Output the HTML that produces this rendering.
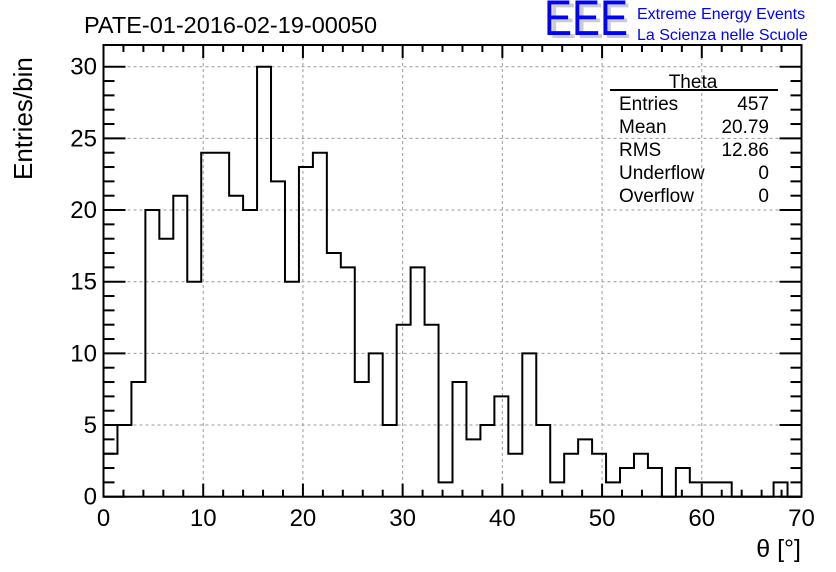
<!DOCTYPE html>
<html><head><meta charset="utf-8"><style>
html,body{margin:0;padding:0;background:#fff}
svg{display:block}
text{font-family:"Liberation Sans",sans-serif}
</style></head><body>
<svg id="chart" width="836" height="572" viewBox="0 0 836 572" xmlns="http://www.w3.org/2000/svg">
<rect x="0" y="0" width="836" height="572" fill="#fff"/>
<text x="84" y="33" font-size="23.5" fill="#000">PATE-01-2016-02-19-00050</text>
<g>
<text x="549" y="38" font-size="50" fill="#ccc" textLength="82" lengthAdjust="spacingAndGlyphs">EEE</text>
<text x="544" y="35" font-size="50" fill="#0000ff" textLength="84" lengthAdjust="spacingAndGlyphs">EEE</text>
<text x="637" y="19" font-size="16" fill="#0000ff">Extreme Energy Events</text>
<text x="637" y="40" font-size="16" fill="#0000ff">La Scienza nelle Scuole</text>
</g>
<g id="grid"></g>
<g id="hist"></g>
<g id="axes"></g>
<g font-size="19" fill="#000">
<text x="693" y="88" text-anchor="middle">Theta</text>
<line x1="610" y1="90" x2="778" y2="90" stroke="#000" stroke-width="2"/>
<text x="619" y="110">Entries</text><text x="769" y="110" text-anchor="end">457</text>
<text x="619" y="133">Mean</text><text x="769" y="133" text-anchor="end">20.79</text>
<text x="619" y="156">RMS</text><text x="769" y="156" text-anchor="end">12.86</text>
<text x="619" y="179">Underflow</text><text x="769" y="179" text-anchor="end">0</text>
<text x="619" y="202">Overflow</text><text x="769" y="202" text-anchor="end">0</text>
</g>
<text font-size="26" transform="translate(32,180) rotate(-90)" text-anchor="start">Entries/bin</text>
<text x="801" y="557" font-size="25" text-anchor="end">θ [°]</text>
</svg>
<script>
const binCounts = [3,5,8,20,18,21,15,24,24,21,20,30,22,15,23,24,17,16,8,10,5,12,16,12,1,8,4,5,7,3,10,5,1,3,4,3,1,2,3,2,0,2,1,1,1,0,0,0,1,0];
const binWidth = 1.4;
const xTicks = [0,10,20,30,40,50,60,70];
const yTicks = [0,5,10,15,20,25,30];
const NS='http://www.w3.org/2000/svg';
const X0=103.5,X1=801.5,Y0=496.7,YT=45;
const xs=v=>X0+(v-0)*(X1-X0)/70;
const ys=v=>Y0-v*(Y0-66.7)/30;
function mk(tag,attrs,parent){const e=document.createElementNS(NS,tag);for(const k in attrs)e.setAttribute(k,attrs[k]);parent.appendChild(e);return e;}
const grid=document.getElementById('grid'),hist=document.getElementById('hist'),axes=document.getElementById('axes');
xTicks.forEach(t=>{if(t>0&&t<70){const l=mk('line',{x1:xs(t),x2:xs(t),y1:YT,y2:Y0,stroke:'#999','stroke-dasharray':'3,3','stroke-width':1},grid);

}});
yTicks.forEach(t=>{if(t>0){const l=mk('line',{x1:X0,x2:X1,y1:ys(t),y2:ys(t),stroke:'#999','stroke-dasharray':'3,3','stroke-width':1},grid);

}});
let d='M'+xs(0)+','+Y0;
binCounts.forEach((c,i)=>{d+=' L'+xs(i*binWidth)+','+ys(c)+' L'+xs((i+1)*binWidth)+','+ys(c);});
d+=' L'+xs(binCounts.length*binWidth)+','+Y0;
const p=mk('path',{d:d,fill:'none',stroke:'#000','stroke-width':2},hist);


const fr=mk('rect',{x:X0,y:YT,width:X1-X0,height:Y0-YT,fill:'none',stroke:'#000','stroke-width':2},axes);


for(let v=0;v<=70;v+=2){const L=v%10===0?13:7;
mk('line',{x1:xs(v),x2:xs(v),y1:Y0,y2:Y0-L,stroke:'#000','stroke-width':2},axes);
mk('line',{x1:xs(v),x2:xs(v),y1:YT,y2:YT+L,stroke:'#000','stroke-width':2},axes);}
for(let v=0;v<=30;v++){const L=v%5===0?22:11;
mk('line',{x1:X0,x2:X0+L,y1:ys(v),y2:ys(v),stroke:'#000','stroke-width':2},axes);
mk('line',{x1:X1,x2:X1-L,y1:ys(v),y2:ys(v),stroke:'#000','stroke-width':2},axes);}
xTicks.forEach(t=>{const e=mk('text',{x:xs(t),y:526,'font-size':24,'text-anchor':'middle'},axes);e.textContent=t;

});
yTicks.forEach(t=>{const e=mk('text',{x:97,y:ys(t)+8,'font-size':24,'text-anchor':'end'},axes);e.textContent=t;

});
</script>
</body></html>
